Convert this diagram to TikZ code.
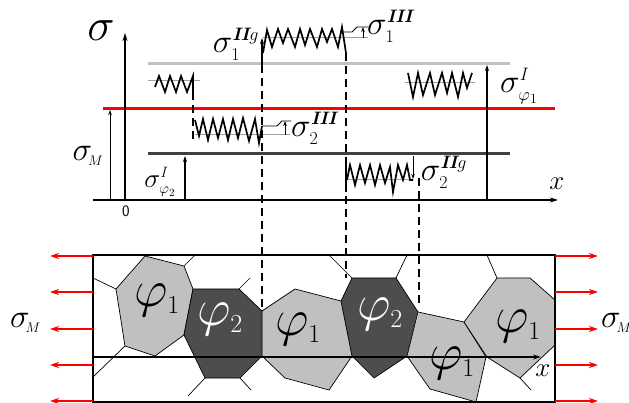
\RequirePackage{fix-cm}
\documentclass[tikz,border=0pt]{standalone}
\usepackage{amsmath}
\usetikzlibrary{arrows.meta}
\DeclareMathSizes{33}{33}{18}{14}
\DeclareMathSizes{27}{27}{15}{11}
\DeclareMathSizes{52}{52}{26}{20}
\definecolor{lightgr}{HTML}{C0C0C0}
\definecolor{darkgr}{HTML}{4D4D4D}
\definecolor{levelgr}{HTML}{404040}
\definecolor{refgr}{HTML}{A0A0A0}
\newcommand{\rII}{\text{\bfseries\itshape II}}
\newcommand{\rIII}{\text{\bfseries\itshape III}}
\newcommand{\rI}{\text{\itshape I}}
\begin{document}
\begin{tikzpicture}[x=1pt,y=-1pt,
  axis/.style={line width=1.3pt,-{Stealth[length=8pt,width=5pt]}},
  level/.style={line width=3pt},
  zig/.style={line width=1.7pt,line join=miter},
  refline/.style={line width=1pt,refgr},
  guide/.style={line width=1.1pt,dash pattern=on 8pt off 5pt},
  jump/.style={line width=1.1pt,-{Stealth[length=6pt,width=4pt]}},
  thinjump/.style={line width=0.8pt,-{Stealth[length=5pt,width=3.5pt]}},
  load/.style={red,line width=1.5pt,-{Stealth[length=9pt,width=6pt]}},
  gb/.style={line width=0.7pt},
  grain/.style={gb,draw=black},
  lab/.style={inner sep=0pt,font=\fontsize{33}{36}\selectfont},
  smalllab/.style={inner sep=0pt,font=\fontsize{27}{30}\selectfont},
  phase/.style={inner sep=0pt,font=\fontsize{52}{56}\selectfont},
]
\useasboundingbox (0,0) rectangle (629,403);

% ---------- stress levels ----------
\coordinate (origin) at (125,200);
\coordinate (xs) at (93,200);  \coordinate (xe) at (558,200);
\coordinate (ys) at (125,200); \coordinate (ye) at (125,33);
\draw[level,lightgr] (148,64) -- (510,64);
\draw[level,levelgr] (148,154) -- (510,154);
\draw[level,red] (103,109) -- (555,109);

\draw[axis] (xs) -- (xe);
\draw[axis] (ys) -- (ye);
\node[lab,font=\fontsize{46}{48}\selectfont] (sig) at (101,31) {$\sigma$};
\node[smalllab] (xlab) at (557,184) {$x$};
\node[inner sep=0pt,font=\fontsize{16}{18}\sffamily] (zero) at (126,211) {0};

% matrix stress
\coordinate (mb) at (110,200); \coordinate (mt) at (110,110);
\draw[thinjump] (mb) -- (mt);
\node[lab] (sM) at (88,156) {$\sigma_{\!\scriptscriptstyle M}$};

% phase-2 level
\coordinate (p2b) at (185,200); \coordinate (p2t) at (185,156);
\draw[jump] (p2b) -- (p2t);
\node[smalllab] (sp2) at (160,182) {$\sigma^{\rI}_{\varphi_2}$};

% phase-1 level
\coordinate (p1b) at (487,200); \coordinate (p1t) at (487,65);
\draw[jump] (p1b) -- (p1t);
\node[lab] (sp1) at (519,86) {$\sigma^{\rI}_{\varphi_1}$};

% ---------- microstress zigzags ----------
% small one, upper left
\draw[refline] (148,81) -- (200,81);
\draw[zig] (155,87) -- (159,76) -- (165,92) -- (170,76) -- (176,92) -- (181,76)
  -- (187,92) -- (193,76) -- (193,92);
\draw[guide] (193,92) -- (193,143);

% phase 2, type III
\draw[refline] (195,135) -- (290,135);
\draw[zig] (195,120) -- (199,136) -- (203,119) -- (208,140) -- (213,119) -- (218,138)
  -- (223,119) -- (228,140) -- (233,119) -- (238,138) -- (243,118) -- (249,141)
  -- (255,119) -- (259,143) -- (262,126);
\draw[line width=0.8pt] (262,126) -- (277,126) -- (282,121) -- (291,121);
\draw[thinjump] (285,135) -- (285,121);
\node[lab] (s2III) at (314,128) {$\sigma_2^{\rIII}$};

% phase 1, type III (top)
\draw[refline] (263,38) -- (368,38);
\draw[zig] (263,53) -- (267,30) -- (272,47) -- (278,29) -- (283,43) -- (288,29)
  -- (295,47) -- (300,29) -- (305,45) -- (310,29) -- (317,47) -- (322,29)
  -- (327,42) -- (332,29) -- (338,47) -- (342,27) -- (346,53);
\draw[line width=0.8pt] (343,32) -- (352,32) -- (357,27) -- (368,27);
\draw[thinjump] (363,38) -- (363,27);
\node[lab] (s1III) at (390,26) {$\sigma_1^{\rIII}$};

% phase 1, type II grain jump
\coordinate (g1b) at (262,65); \coordinate (g1t) at (262,38);
\draw[jump] (g1b) -- (g1t);
\draw[guide] (262,65) -- (262,311);
\node[lab] (s1IIg) at (236,44) {$\sigma_1^{\rII g}$};

% phase 2, type II grain jump (lower)
\draw[guide] (346,53) -- (346,278);
\draw[refline] (346,180) -- (413,180);
\draw[zig] (346,163) -- (346,192);
\draw[zig] (347,180) -- (350,165) -- (355,185) -- (360,165) -- (365,183) -- (370,165)
  -- (375,185) -- (380,165) -- (385,183) -- (390,167) -- (393,192) -- (398,165)
  -- (403,180) -- (407,165) -- (410,180) -- (413,180);
\coordinate (g2t) at (413,156); \coordinate (g2b) at (413,179);
\draw[thinjump] (g2t) -- (g2b);
\draw[guide] (419,178) -- (419,303);
\node[lab] (s2IIg) at (444,172) {$\sigma_2^{\rII g}$};

% right one, phase 1
\draw[refline] (405,83) -- (475,83);
\draw[zig] (408,73) -- (413,97) -- (418,73) -- (423,95) -- (430,73) -- (435,95)
  -- (442,73) -- (447,93) -- (452,73) -- (458,97) -- (463,73) -- (467,88) -- (472,73);

% ---------- specimen ----------
% grains
\fill[lightgr] (262,311) -- (295,289) -- (341,301) -- (352,356) -- (329,390) -- (285,378) -- (262,356) -- cycle;
\fill[lightgr] (419,312) -- (464,322) -- (486,357) -- (476,402) -- (430,389) -- (407,356) -- cycle;
\draw[grain,fill=lightgr] (145,256) -- (184,266) -- (193,289) -- (184,335) -- (155,356) -- (125,346) -- (116,289) -- cycle;
\draw[grain,fill=darkgr] (193,289) -- (239,289) -- (262,311) -- (262,356) -- (240,378) -- (205,378) -- (184,335) -- cycle;
\draw[grain] (262,311) -- (295,289) -- (341,301);
\draw[grain] (352,356) -- (329,390) -- (285,378) -- (262,356);
\draw[grain,fill=darkgr] (352,278) -- (396,278) -- (418,312) -- (407,356) -- (374,378) -- (352,356) -- (341,301) -- cycle;
\draw[grain] (418,312) -- (464,322) -- (486,357) -- (476,402);
\draw[grain] (430,389) -- (407,356);
\draw[grain] (476,402) -- (430,389);
\draw[grain,fill=lightgr] (497,278) -- (530,278) -- (555,300) -- (555,345) -- (520,378) -- (487,357) -- (464,322) -- cycle;

% grain boundaries running to the edges
\draw[gb] (116,289) -- (93,278);
\draw[gb] (184,266) -- (195,255);
\draw[gb] (125,346) -- (93,377);
\draw[gb] (239,289) -- (250,278);
\draw[gb] (205,378) -- (188,396);
\draw[gb] (240,378) -- (251,390);
\draw[gb] (352,278) -- (329,255);
\draw[gb] (396,278) -- (407,255);
\draw[gb] (497,278) -- (487,255);
\draw[gb] (520,378) -- (531,390);

% specimen outline and axis
\coordinate (bl) at (93,402); \coordinate (tr) at (555,255);
\draw[line width=1.2pt] (93,255) rectangle (555,402);
\draw[line width=2pt] (93,402) -- (555,402);
\coordinate (bxs) at (93,357); \coordinate (bxe) at (541,357);
\draw[line width=1.2pt,-{Stealth[length=8pt,width=5pt]}] (bxs) -- (bxe);
\node[smalllab] (bx) at (543,371) {$x$};

% phase labels
\node[phase] (f1a) at (157,300) {$\varphi_1$};
\node[phase,white] (f2a) at (220,319) {$\varphi_2$};
\node[phase] (f1b) at (298,329) {$\varphi_1$};
\node[phase,white] (f2b) at (380,314) {$\varphi_2$};
\node[phase] (f1c) at (452,363) {$\varphi_1$};
\node[phase] (f1d) at (518,326) {$\varphi_1$};

% applied load
\foreach \yy in {256,292,329,365,401}{
  \draw[load] (93,\yy) -- (50,\yy);
  \draw[load] (555,\yy) -- (598,\yy);
}
\node[lab,anchor=west] (sML) at (10,323) {$\sigma_{\!\scriptscriptstyle M}$};
\node[lab,anchor=west] (sMR) at (601,323) {$\sigma_{\!\scriptscriptstyle M}$};
\end{tikzpicture}
\end{document}
